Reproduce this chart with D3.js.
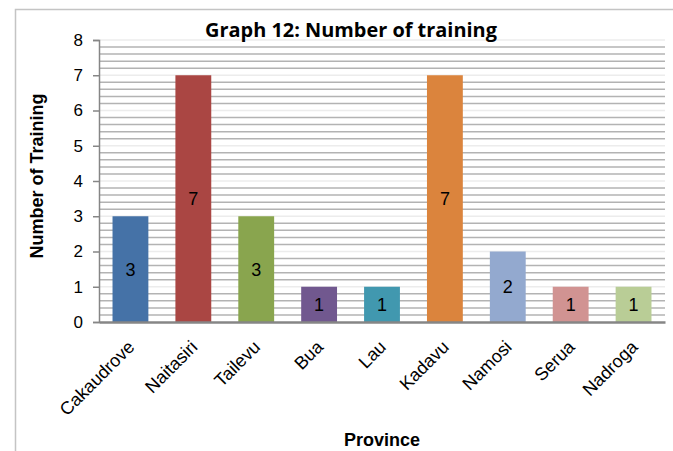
<!DOCTYPE html>
<html><head><meta charset="utf-8">
<script src="https://cdn.jsdelivr.net/npm/d3@7"></script>
<style>body{margin:0;background:#fff}svg{display:block}</style>
</head><body><div id="chart"></div>
<script>
const categories = ["Cakaudrove","Naitasiri","Tailevu","Bua","Lau","Kadavu","Namosi","Serua","Nadroga"];
const values = [3,7,3,1,1,7,2,1,1];
const colors = ["#4572A7","#AA4643","#89A54E","#71588F","#4198AF","#DB843D","#93A9CF","#D19392","#B9CD96"];
const yTicks = [0,1,2,3,4,5,6,7,8];
const title = "Graph 12: Number of training";
const yTitle = "Number of Training";
const xTitle = "Province";

const W = 673, H = 451;
const m = {left: 99, right: 8, top: 40, bottom: 129};
const AR = "'Liberation Sans', Arial, sans-serif";
const svg = d3.select("#chart").append("svg").attr("width", W).attr("height", H);

// outer frame
svg.append("path").attr("d", `M15.5,${H} L15.5,9.5 L${W},9.5`).attr("fill","none").attr("stroke","#c4c4c4").attr("stroke-width",1.5);

const x = d3.scaleBand().domain(categories).range([m.left, W - m.right]).paddingInner(0.43).paddingOuter(0.215);
const y = d3.scaleLinear().domain([0, 8]).range([H - m.bottom, m.top]);

// gridlines: minor at 0.2 steps (darker), major at integers (lighter)
const minor = d3.range(1, 40).map(i => i / 5).filter(v => Math.abs(v - Math.round(v)) > 1e-6);
svg.append("g").selectAll("line").data(minor).join("line")
  .attr("x1", m.left).attr("x2", W - m.right)
  .attr("y1", d => y(d)).attr("y2", d => y(d))
  .attr("stroke", "#b3b3b3").attr("stroke-width", 1.5);
svg.append("g").selectAll("line").data(yTicks.filter(v => v > 0)).join("line")
  .attr("x1", m.left).attr("x2", W - m.right)
  .attr("y1", d => y(d)).attr("y2", d => y(d))
  .attr("stroke", "#ececec").attr("stroke-width", 1.5);

// bars
svg.append("g").selectAll("rect").data(values).join("rect")
  .attr("x", (d, i) => x(categories[i]))
  .attr("width", x.bandwidth())
  .attr("y", d => y(d))
  .attr("height", d => y(0) - y(d))
  .attr("fill", (d, i) => colors[i]);

// value labels
svg.append("g").selectAll("text").data(values).join("text")
  .attr("x", (d, i) => x(categories[i]) + x.bandwidth() / 2)
  .attr("y", d => y(d / 2))
  .attr("dy", "0.36em")
  .attr("text-anchor", "middle")
  .style("font-family", AR)
  .style("font-size", "18px").attr("fill", "#000")
  .text(d => d);

// y axis
const yAxis = svg.append("g").attr("transform", `translate(${m.left},0)`)
  .call(d3.axisLeft(y).tickValues(yTicks).tickSize(6).tickPadding(10).tickFormat(d3.format("d")));
yAxis.select(".domain").attr("stroke", "#868686").attr("stroke-width", 1.5);
yAxis.selectAll(".tick line").attr("stroke", "#868686").attr("stroke-width", 1.5);
yAxis.selectAll("text").style("font-family", AR).style("font-size", "17px").attr("fill", "#000");

// x axis
const xAxis = svg.append("g").attr("transform", `translate(0,${y(0)})`)
  .call(d3.axisBottom(x).tickSize(0).tickPadding(0));
xAxis.select(".domain").attr("stroke", "#868686").attr("stroke-width", 2.5);
xAxis.selectAll(".tick text")
  .style("font-family", AR).style("font-size", "18px").attr("fill", "#000")
  .attr("text-anchor", "end")
  .attr("y", 0)
  .attr("dy", "0.72em")
  .attr("transform", "translate(-4,17) rotate(-45)");

// titles
const t = svg.append("text").attr("x", 351).attr("y", 37).attr("text-anchor", "middle")
  .style("font-family", "'Open Sans', sans-serif").style("font-weight", "bold").style("font-size", "18px")
  .attr("fill", "#000").text(title);
const tl = t.node().getComputedTextLength();
t.style("font-size", (18 * 292 / tl).toFixed(2) + "px");
svg.append("text").attr("transform", `translate(43,176) rotate(-90)`).attr("text-anchor", "middle")
  .style("font-family", AR).style("font-weight", "bold").style("font-size", "18px")
  .attr("fill", "#000").text(yTitle);
svg.append("text").attr("x", 382).attr("y", 446).attr("text-anchor", "middle")
  .style("font-family", AR).style("font-weight", "bold").style("font-size", "18px")
  .attr("fill", "#000").text(xTitle);
</script></body></html>
